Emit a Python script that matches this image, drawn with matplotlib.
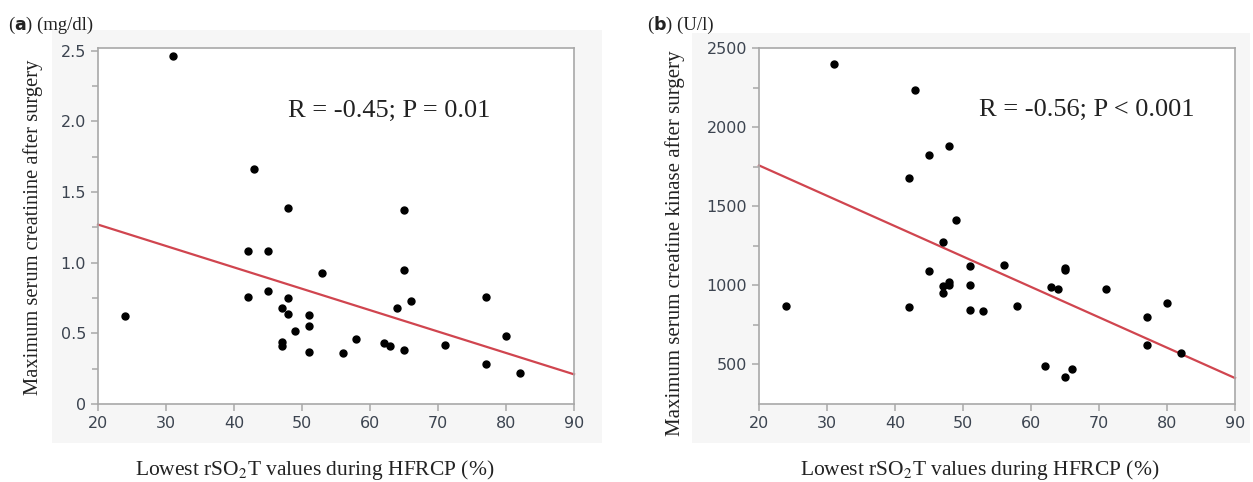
import numpy as np
import matplotlib.pyplot as plt
from matplotlib.patches import Rectangle

# lowest rSO2T (%) -- same patients in both panels
rso2t = [24, 31, 43, 48, 65, 42, 45, 65, 53, 42, 45, 48, 47, 48, 51, 51,
         49, 47, 47, 51, 56, 58, 62, 63, 65, 64, 66, 71, 77, 77, 80, 82]
creat = [0.62, 2.46, 1.66, 1.39, 1.37, 1.08, 1.08, 0.95, 0.93, 0.76, 0.80, 0.75,
         0.68, 0.64, 0.63, 0.55, 0.52, 0.44, 0.41, 0.37, 0.36, 0.46, 0.43, 0.41,
         0.38, 0.68, 0.73, 0.42, 0.76, 0.28, 0.48, 0.22]

rso2t_b = [24, 31, 43, 42, 45, 48, 49, 47, 45, 47, 48, 48, 47, 42, 51, 51,
           51, 53, 56, 58, 63, 64, 65, 65, 62, 65, 66, 71, 77, 77, 80, 82]
ck = [870, 2400, 2237, 1676, 1826, 1882, 1416, 1277, 1088, 998, 1019, 1000,
      952, 866, 1122, 1004, 845, 836, 1126, 868, 987, 979, 1111, 1097,
      492, 420, 471, 975, 798, 626, 887, 571]

# regression line end points (x = 20 and x = 90)
fit_x = [20, 90]
fit_creat = [1.27, 0.21]
fit_ck = [1758, 414]

W, H = 1253, 482
fig = plt.figure(figsize=(W / 100, H / 100), dpi=100)
fig.patch.set_facecolor('white')

# light grey plot-area backgrounds (pixels from top-left)
for x0, y0, x1, y1 in [(52, 30, 602, 443), (692, 33, 1250, 443)]:
    fig.patches.append(Rectangle((x0 / W, 1 - y1 / H), (x1 - x0) / W, (y1 - y0) / H,
                                 transform=fig.transFigure, facecolor='#f6f6f6',
                                 edgecolor='none', zorder=-5))

serif = 'Liberation Serif'
tickc = '#3c4450'
spc = '#a8a8a8'


def style(ax):
    ax.set_facecolor('white')
    for s in ax.spines.values():
        s.set_color(spc)
        s.set_linewidth(1.2)
    ax.tick_params(axis='both', colors=spc, labelcolor=tickc, labelsize=11.5,
                   length=5, width=1.1, direction='out')
    ax.tick_params(axis='y', which='minor', colors=spc, length=4, width=1.1)
    ax.set_xlim(20, 90)
    ax.set_xticks(range(20, 91, 10))


axh = 356 / H
axb = (H - 404) / H
axw = 476 / W

ax1 = fig.add_axes([98 / W, axb, axw, axh])
style(ax1)
ax1.plot(fit_x, fit_creat, color='#d0454f', lw=1.6, zorder=2, clip_on=False)
ax1.plot(rso2t, creat, 'o', color='black', ms=5, zorder=3)
ax1.set_ylim(0, 2.52)
ax1.set_yticks([0, 0.5, 1.0, 1.5, 2.0, 2.5])
ax1.set_yticklabels(['0', '0.5', '1.0', '1.5', '2.0', '2.5'])
ax1.set_yticks(np.arange(0.25, 2.5, 0.5), minor=True)
ax1.text(47.9, 2.03, 'R = -0.45; P = 0.01', family=serif, fontsize=19,
         color='#222222')

ax2 = fig.add_axes([759 / W, axb, axw, axh])
style(ax2)
ax2.plot(fit_x, fit_ck, color='#d0454f', lw=1.6, zorder=2, clip_on=False)
ax2.plot(rso2t_b, ck, 'o', color='black', ms=5, zorder=3)
ax2.set_ylim(250, 2500)
ax2.set_yticks([500, 1000, 1500, 2000, 2500])
ax2.set_yticks([750, 1250, 1750, 2250], minor=True)
ax2.text(52.3, 2072, 'R = -0.56; P < 0.001', family=serif, fontsize=19,
         color='#222222')

# axis titles
for cx, cy, txt in [(315, 470, 'Lowest rSO$_2$T values during HFRCP (%)'),
                    (980, 470, 'Lowest rSO$_2$T values during HFRCP (%)')]:
    fig.text(cx / W, 1 - cy / H, txt, family=serif, fontsize=15.5, ha='center',
             va='center', color='#222222', math_fontfamily='stix')

fig.text(33 / W, 1 - 227 / H, 'Maximum serum creatinine after surgery', family=serif,
         fontsize=14.8, rotation=90, ha='center', va='center', color='#222222')
fig.text(675 / W, 1 - 243 / H, 'Maximum serum creatine kinase after surgery',
         family=serif, fontsize=15, rotation=90, ha='center', va='center',
         color='#222222')

# panel letters: "(a) (mg/dl)"  "(b) (U/l)"
for px, letter, unit in [(8, 'a', ' (mg/dl)'), (647, 'b', ' (U/l)')]:
    t1 = fig.text(px / W, 1 - 30 / H, '(', family=serif, fontsize=13.5, color='#222222')
    t2 = fig.add_artist(plt.Annotation(letter, xy=(1, 0), xycoords=t1, va='bottom',
                                       fontsize=12.5, fontweight='bold',
                                       color='#222222'))
    fig.add_artist(plt.Annotation(')' + unit, xy=(1, 0), xycoords=t2, va='bottom',
                                  family=serif, fontsize=13.5, color='#222222'))

fig.savefig('out.png', dpi=100)
